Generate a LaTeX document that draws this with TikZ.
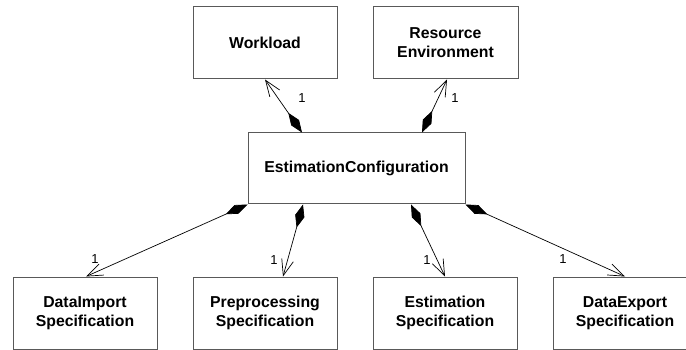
\documentclass[tikz,border=0pt]{standalone}
\usepackage{fontspec}
\setmainfont{Liberation Sans}
\usetikzlibrary{arrows.meta}
\begin{document}
\begin{tikzpicture}[x=1pt,y=-1pt,
  classbox/.style={draw=black!65, line width=1pt, fill=white,
    minimum width=144pt, minimum height=72pt, inner sep=0pt,
    align=center, font=\fontsize{15.8}{19}\selectfont\bfseries},
  composition/.style={draw=black, line width=0.7pt, line join=miter,
    {Diamond[length=24pt,width=9.5pt]}-{Straight Barb[length=16pt,width=12pt]}},
  mult/.style={inner sep=0pt, font=\fontsize{13}{15}\selectfont}]
\useasboundingbox (0,0) rectangle (686,350);

% classes
\node[classbox, minimum width=217pt, minimum height=71pt] (ec) at (356.5,168.5) {EstimationConfiguration};
\node[classbox] (wl) at (265,43) {Workload};
\node[classbox, minimum width=145pt] (re) at (445.5,43) {Resource\\Environment};
\node[classbox] (di) at (85,313) {DataImport\\Specification};
\node[classbox] (pp) at (265,313) {Preprocessing\\Specification};
\node[classbox] (es) at (445,313) {Estimation\\Specification};
\node[classbox] (de) at (625,313) {DataExport\\Specification};

% composition associations
\draw[composition] ([xshift=-54.5pt]ec.north) -- (wl.south);
\draw[composition] ([xshift=65.5pt]ec.north) -- ([xshift=1.5pt]re.south);
\draw[composition] (ec.south west) -- ([xshift=1pt]di.north);
\draw[composition] ([xshift=-53.5pt]ec.south) -- ([xshift=18pt]pp.north);
\draw[composition] ([xshift=54.5pt]ec.south) -- (es.north);
\draw[composition] (ec.south east) -- (de.north);

% multiplicities
\node[mult] (m1) at (302,98) {1};
\node[mult] (m2) at (455,98) {1};
\node[mult] (m3) at (95,259) {1};
\node[mult] (m4) at (274,260) {1};
\node[mult] (m5) at (427,260) {1};
\node[mult] (m6) at (563,259) {1};
\end{tikzpicture}
\end{document}
